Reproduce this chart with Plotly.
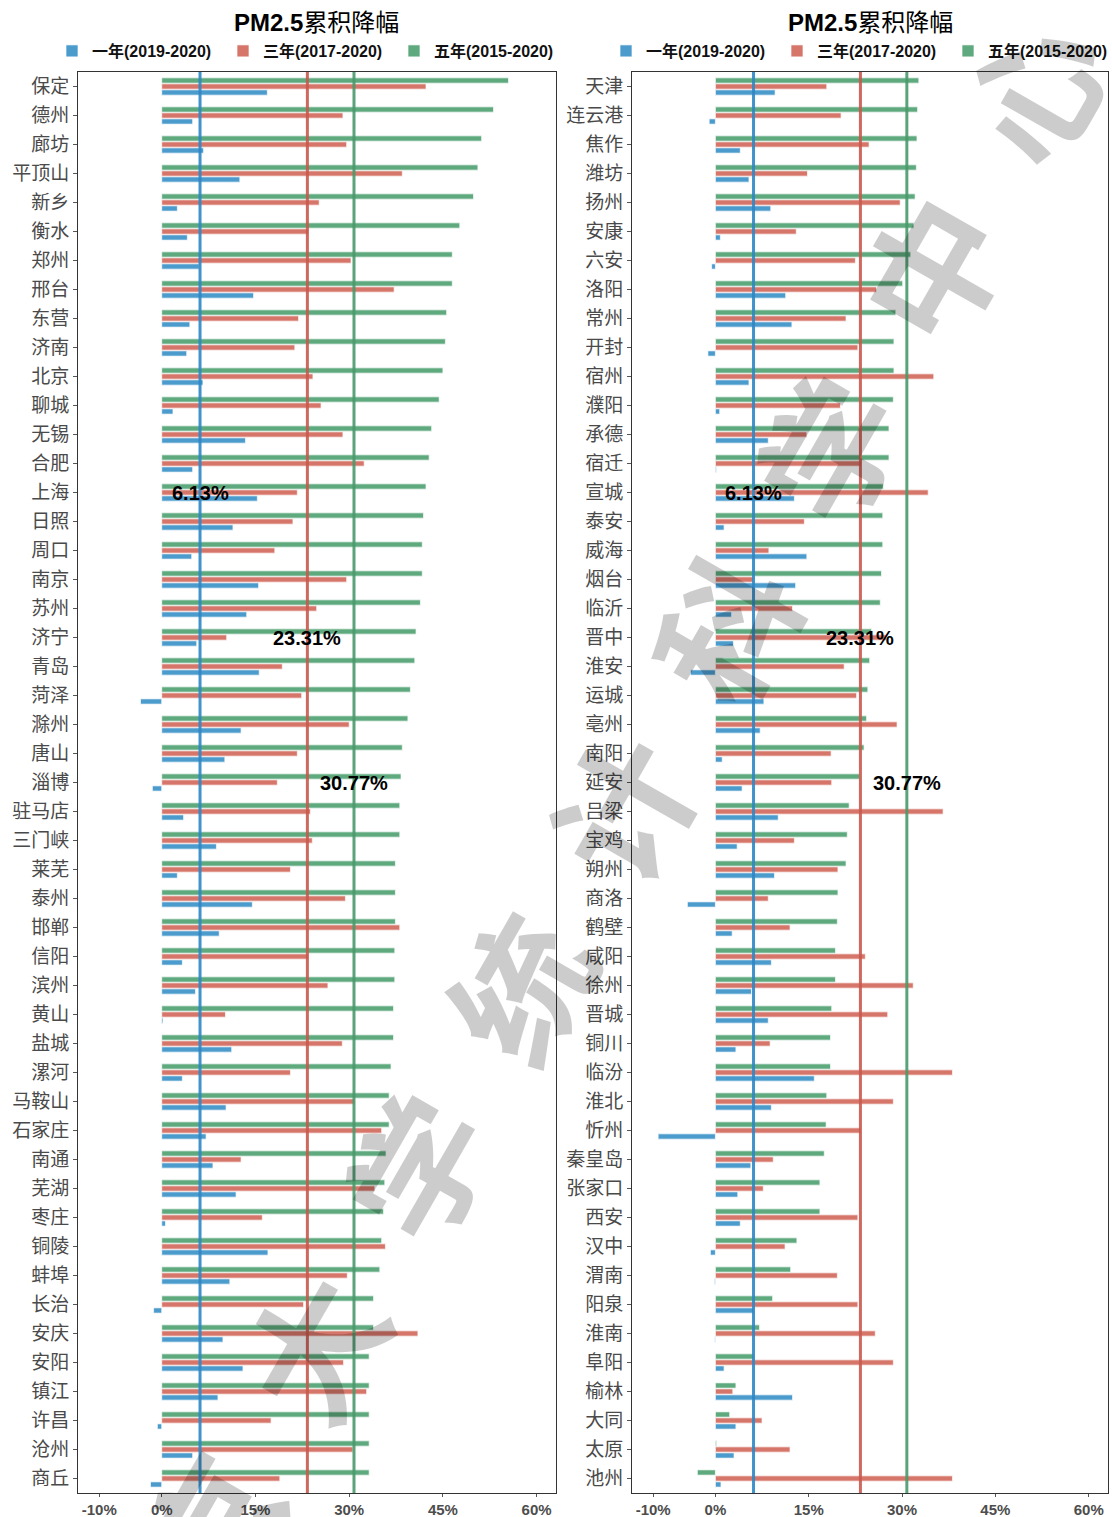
import plotly.graph_objects as go

# ---------------- data ----------------
cities_left = ["保定","德州","廊坊","平顶山","新乡","衡水","郑州","邢台","东营","济南","北京","聊城",
               "无锡","合肥","上海","日照","周口","南京","苏州","济宁","青岛","菏泽","滁州","唐山",
               "淄博","驻马店","三门峡","莱芜","泰州","邯郸","信阳","滨州","黄山","盐城","漯河","马鞍山",
               "石家庄","南通","芜湖","枣庄","铜陵","蚌埠","长治","安庆","安阳","镇江","许昌","沧州","商丘"]
one_left = [16.9,4.95,6.7,12.5,2.5,4.1,6.0,14.7,4.5,4.0,6.6,1.8,
            13.4,4.95,15.3,11.4,4.8,15.5,13.6,5.6,15.6,-3.4,12.7,10.1,
            -1.5,3.5,8.75,2.5,14.5,9.2,3.3,5.4,0.2,11.2,3.3,10.3,
            7.1,8.2,11.9,0.6,17.0,10.9,-1.3,9.8,13.0,9.0,-0.7,4.95,-1.8]
three_left = [42.3,29.0,29.6,38.5,25.2,23.5,30.3,37.2,21.9,21.3,24.2,25.5,
              29.0,32.4,21.7,21.0,18.1,29.6,24.8,10.4,19.3,22.4,30.0,21.7,
              18.5,23.8,24.1,20.6,29.4,38.1,23.5,26.6,10.2,28.9,20.6,30.9,
              35.2,12.7,34.1,16.1,35.8,29.7,22.7,41.0,29.1,32.8,17.5,30.6,18.9]
five_left = [55.5,53.1,51.2,50.6,49.9,47.7,46.5,46.5,45.6,45.4,45.0,44.4,
             43.2,42.8,42.3,41.9,41.7,41.7,41.4,40.7,40.5,39.8,39.4,38.5,
             38.3,38.1,38.1,37.4,37.4,37.4,37.3,37.3,37.1,37.1,36.7,36.4,
             36.4,35.9,35.7,35.5,35.2,34.9,33.9,33.9,33.2,33.2,33.2,33.2,33.2]

cities_right = ["天津","连云港","焦作","潍坊","扬州","安康","六安","洛阳","常州","开封","宿州","濮阳",
                "承德","宿迁","宣城","泰安","威海","烟台","临沂","晋中","淮安","运城","亳州","南阳",
                "延安","吕梁","宝鸡","朔州","商洛","鹤壁","咸阳","徐州","晋城","铜川","临汾","淮北",
                "忻州","秦皇岛","张家口","西安","汉中","渭南","阳泉","淮南","阜阳","榆林","大同","太原","池州"]
one_right = [9.6,-1.0,4.0,5.4,8.9,0.8,-0.6,11.3,12.3,-1.2,5.4,0.7,
             8.5,0.15,12.7,1.4,14.7,12.9,2.6,2.9,-4.0,7.8,7.2,1.1,
             4.3,10.1,3.5,9.5,-4.5,2.7,9.0,5.8,8.5,3.3,15.9,9.0,
             -9.2,5.7,3.6,4.0,-0.8,-0.15,6.2,-0.1,1.4,12.4,3.3,3.0,0.9]
three_right = [17.9,20.2,24.7,14.8,29.7,13.0,22.5,25.9,21.0,22.9,35.1,20.1,
               14.7,23.5,34.2,14.3,8.6,6.1,12.4,27.5,20.7,22.7,29.2,18.6,
               18.7,36.6,12.7,19.7,8.5,12.0,24.1,31.8,27.7,8.8,38.1,28.6,
               23.4,9.3,7.7,22.9,11.2,19.6,22.9,25.7,28.6,2.8,7.5,12.0,38.1]
five_right = [32.7,32.5,32.4,32.3,32.1,31.9,31.4,30.1,29.0,28.7,28.7,28.6,
              27.9,27.9,27.0,26.9,26.9,26.7,26.5,25.1,24.8,24.5,24.3,23.9,
              23.2,21.5,21.2,21.0,19.7,19.6,19.3,19.3,18.7,18.5,18.5,17.9,
              17.8,17.5,16.8,16.8,13.1,12.1,9.2,7.1,6.2,3.3,2.3,0.2,-2.9]

series_names = ["一年(2019-2020)", "三年(2017-2020)", "五年(2015-2020)"]
avg_values = [6.13, 23.31, 30.77]
avg_labels = ["6.13%", "23.31%", "30.77%"]
label_rows_left = ["上海", "济宁", "淄博"]
label_rows_right = ["宣城", "晋中", "延安"]
x_ticks = [-10, 0, 15, 30, 45, 60]
x_tick_text = ["-10%", "0%", "15%", "30%", "45%", "60%"]
title_main = "PM2.5"
title_cjk = "累积降幅"
watermark = "北京大学统计科学中心"

# ---------------- style ----------------
bar_colors = ["#4C9BCD", "#D6766A", "#5FA97E"]
line_colors = ["#2E88C6", "#C9594E", "#4A9A6C"]
W, H = 1112, 1517
ML, MR, MT, MB = 78, 4, 72, 24
PW = W - ML - MR
PH = H - MT - MB

def px2paper_x(px):
    return (px - ML) / PW

def py2paper_y(py):
    return (H - MB - py) / PH

fig = go.Figure()

panels = [
    (cities_left, [one_left, three_left, five_left], "x", "y", "legend"),
    (cities_right, [one_right, three_right, five_right], "x2", "y2", "legend2"),
]
for cities, vals, xa, ya, lg in panels:
    for name, v, c in zip(series_names, vals, bar_colors):
        fig.add_trace(go.Bar(
            y=cities, x=v, name=name, orientation="h",
            marker=dict(color=c, line=dict(color="rgba(255,255,255,0.85)", width=0.8)),
            xaxis=xa, yaxis=ya, legend=lg, showlegend=True,
        ))

axis_common = dict(
    range=[-13.4, 63.1], tickvals=x_ticks, ticktext=x_tick_text, automargin=False,
    showgrid=False, zeroline=False, showline=True, linecolor="#333333", linewidth=1,
    mirror=True, ticks="outside", ticklen=3, tickcolor="#555555",
    tickfont=dict(family="Arial, Liberation Sans, sans-serif", size=15, color="#4D4D4D", weight="bold"),
)
yaxis_common = dict(
    type="category", categoryorder="array", showgrid=False, zeroline=False, automargin=False,
    showline=True, linecolor="#333333", linewidth=1, mirror=True,
    ticks="outside", ticklen=4, tickcolor="#555555",
    tickfont=dict(family="Noto Sans CJK SC", size=19, color="#4A4A4A"),
)

left_dom = [0, px2paper_x(556)]
right_dom = [px2paper_x(632), 1]

legend_common = dict(
    orientation="h", xref="container", yref="container", xanchor="left", yanchor="middle",
    font=dict(family="Arial, Noto Sans CJK SC", size=16, color="#111111", weight="bold"),
    itemclick=False, entrywidth=126, bgcolor="rgba(0,0,0,0)", borderwidth=0,
)

fig.update_layout(
    width=W, height=H, paper_bgcolor="white", plot_bgcolor="white",
    margin=dict(l=ML, r=MR, t=MT, b=MB, autoexpand=False),
    barmode="group", bargap=0.38, bargroupgap=0.12,
    xaxis=dict(domain=left_dom, anchor="y", **axis_common),
    xaxis2=dict(domain=right_dom, anchor="y2", **axis_common),
    yaxis=dict(domain=[0, 1], anchor="x", categoryarray=cities_left[::-1], **yaxis_common),
    yaxis2=dict(domain=[0, 1], anchor="x2", categoryarray=cities_right[::-1], **yaxis_common),
    legend=dict(x=52 / W, y=1 - 51 / H, **legend_common),
    legend2=dict(x=606 / W, y=1 - 51 / H, **legend_common),
    showlegend=True,
)

shapes = []
for xr, yr in [("x", "y domain"), ("x2", "y2 domain")]:
    for v, c in zip(avg_values, line_colors):
        shapes.append(dict(type="line", xref=xr, yref=yr, x0=v, x1=v, y0=0, y1=1,
                           line=dict(color=c, width=3), opacity=0.9, layer="above"))
fig.update_layout(shapes=shapes)

annotations = []
for xr, yr, rows in [("x", "y", label_rows_left), ("x2", "y2", label_rows_right)]:
    for v, lab, row in zip(avg_values, avg_labels, rows):
        annotations.append(dict(x=v, y=row, xref=xr, yref=yr, text="<b>%s</b>" % lab,
                                showarrow=False, xanchor="center", yanchor="middle",
                                font=dict(family="Arial, Liberation Sans", size=20, color="black")))
# panel titles
for cx in [316, 870]:
    annotations.append(dict(x=px2paper_x(cx), y=py2paper_y(22), xref="paper", yref="paper",
                            text="<b>%s</b>%s" % (title_main, title_cjk), showarrow=False,
                            xanchor="center", yanchor="middle",
                            font=dict(family="Arial, Noto Sans CJK SC", size=24, color="black")))
# watermark
annotations.append(dict(x=px2paper_x(567), y=py2paper_y(896), xref="paper", yref="paper",
                        text="<b>%s</b>" % "\u2002".join(watermark), showarrow=False,
                        textangle=-60.2, xanchor="center", yanchor="middle",
                        font=dict(family="Noto Sans CJK SC", size=138, color="rgba(0,0,0,0.2)")))
fig.update_layout(annotations=annotations)

fig.write_html("out.html", config={"displayModeBar": False},
               post_script="document.body.style.margin='0';document.body.style.overflow='hidden';")
